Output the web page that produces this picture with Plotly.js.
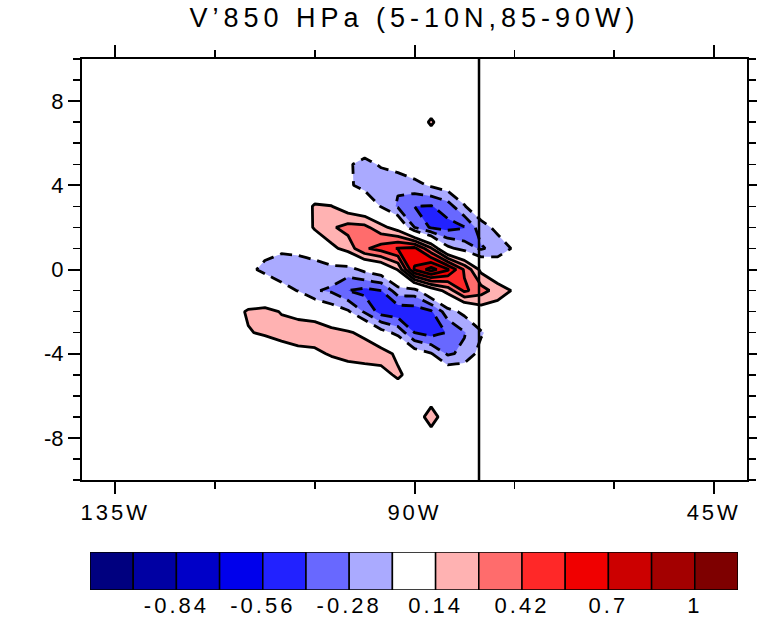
<!DOCTYPE html>
<html><head><meta charset="utf-8">
<script src="https://cdn.plot.ly/plotly-3.0.1.min.js"></script>
<style>html,body{margin:0;padding:0;background:#fff;} #chart{width:757px;height:619px;}</style>
</head><body><div id="chart"></div>
<script>
// Longitudes (deg, negative = W) and lags of the grid
const lons = [-140,-122.5,-120,-117.5,-115,-112.5,-110,-107.5,-105,-102.5,-100,-97.5,-95,-92.5,-90,-87.5,-85,-82.5,-80,-77.5,-75,-72.5,-70,-40];
const lags = [-10,-8,-7,-6,-5,-4,-3,-2,-1,0,1,2,3,4,5,6,7,8,10];

// V'850 regression values, one row per lag (columns follow lons)
const vLagM10 = [0,0,0,0,0,0,0,0,0,0,0,0,0,0,0,0,0,0,0,0,0,0,0,0];
const vLagM8 = [0,0,0,0,0,0,0,0,0,0,0,0,0,0,0,0.03,0,0,0,0,0,0,0,0];
const vLagM7 = [0,0,0,0,0,0,0,0,0,0,0,0,0,0,0,0.24,0,0,0,0,0,0,0,0];
const vLagM6 = [0,0,0,0,0,0,0,0,0,0,0,0,0,0.02,0.02,0.03,0,0,0,0,0,0,0,0];
const vLagM5 = [0,0,0,0,0,0,0,0,0,0,0,0.03,0.08,0.17,0.06,0,0,0,0,0,0,0,0,0];
const vLagM4 = [0,0,0,0.01,0.04,0.02,0.05,0.08,0.10,0.16,0.22,0.24,0.22,0.10,-0.05,-0.13,-0.30,-0.25,-0.08,0,0,0,0,0];
const vLagM3 = [0,0,0.03,0.07,0.13,0.16,0.20,0.24,0.24,0.20,0.16,0.10,-0.08,-0.18,-0.42,-0.48,-0.41,-0.29,-0.16,-0.05,0,0,0,0];
const vLagM2 = [0,0,0.03,0.07,0.16,0.19,0.13,0.08,0.05,-0.05,-0.12,-0.30,-0.48,-0.52,-0.50,-0.44,-0.20,-0.10,0.05,0.05,0.02,0,0,0];
const vLagM1 = [0,0,0,-0.01,-0.03,-0.08,-0.10,-0.145,-0.27,-0.30,-0.42,-0.46,-0.42,-0.20,-0.20,0.03,0.20,0.45,0.34,0.22,0.12,0.05,0,0];
const vLag0  = [0,0,-0.02,-0.05,-0.125,-0.155,-0.20,-0.22,-0.24,-0.20,-0.20,-0.10,-0.03,0.15,0.72,0.90,0.72,0.40,0.10,-0.02,0,0,0,0];
const vLag1  = [0,0,0,-0.01,-0.02,-0.12,-0.12,-0.10,-0.02,0.10,0.20,0.40,0.48,0.57,0.60,0.30,-0.10,-0.20,-0.30,-0.22,-0.12,-0.05,0,0];
const vLag2  = [0,0,0,0,0,-0.03,-0.03,0,0.16,0.26,0.33,0.32,0.19,0.064,-0.28,-0.44,-0.47,-0.43,-0.20,-0.10,-0.03,0,0,0];
const vLag3  = [0,0,0,0,0,0,0,0.02,0.16,0.145,0.05,-0.02,-0.15,-0.30,-0.42,-0.43,-0.35,-0.15,-0.02,0,0,0,0,0];
const vLag4  = [0,0,0,0,0,0,0,0,-0.02,-0.03,-0.12,-0.18,-0.24,-0.26,-0.19,-0.12,-0.06,-0.02,0,0,0,0,0,0];
const vLag5  = [0,0,0,0,0,0,0,0,0,-0.05,-0.12,-0.19,-0.12,-0.06,-0.02,0,0,0,0,0,0,0,0,0];
const vLag6  = [0,0,0,0,0,0,0,0,0,0,-0.02,-0.02,0,0,0,0,0,0,0,0,0,0,0,0];
const vLag7  = [0,0,0,0,0,0,0,0,0,0,0,0,0,0,0,0.17,0,0,0,0,0,0,0,0];
const vLag8  = [0,0,0,0,0,0,0,0,0,0,0,0,0,0,0,0,0,0,0,0,0,0,0,0];
const vLag10 = [0,0,0,0,0,0,0,0,0,0,0,0,0,0,0,0,0,0,0,0,0,0,0,0];

// Reference meridian drawn as a vertical line
const refLon = -80.3;

// Axis ticks
const xTickVals = [-135,-90,-45];
const xTickText = ['135W','90W','45W'];
const yTickVals = [-8,-4,0,4,8];
const yTickText = ['-8','-4','0','4','8'];

// Contour levels / label bar
const cbColors = ['#00007f','#0000a3','#0000c8','#0000ec','#2222ff','#6868ff','#aaaaff','#ffffff',
                  '#ffb2b2','#ff6c6c','#ff2828','#f00000','#cc0000','#a30000','#7e0000'];
const cbLabels = ['-0.84','-0.56','-0.28','0.14','0.42','0.7','1'];
const cbLabelAt = [1.5,3.5,5.5,7.5,9.5,11.5,13.5];

const z = [vLagM10,vLagM8,vLagM7,vLagM6,vLagM5,vLagM4,vLagM3,vLagM2,vLagM1,vLag0,vLag1,vLag2,vLag3,vLag4,vLag5,vLag6,vLag7,vLag8,vLag10];

// colour for each filled band (16 bands: below -0.98 ... above 0.98, zero band split in two)
const bandColors = cbColors.slice(0,8).concat(cbColors.slice(7));
const colorscale = bandColors.map((c,i)=>[i/(bandColors.length-1), c]);

const fillTrace = {
  type:'contour', x:lons, y:lags, z:z, autocontour:false,
  contours:{start:-0.98, end:0.98, size:0.14, coloring:'fill', showlines:false},
  colorscale:colorscale, showscale:false, line:{width:0, smoothing:0}, hoverinfo:'skip'
};
const posLines = {
  type:'contour', x:lons, y:lags, z:z, autocontour:false,
  contours:{start:0.14, end:0.98, size:0.14, coloring:'none'},
  line:{color:'black', width:2.8, smoothing:0}, showscale:false, hoverinfo:'skip'
};
const negLines = {
  type:'contour', x:lons, y:lags, z:z, autocontour:false,
  contours:{start:-0.98, end:-0.14, size:0.14, coloring:'none'},
  line:{color:'black', width:2.8, smoothing:0, dash:'12px,7px'}, showscale:false, hoverinfo:'skip'
};
const cbTrace = {
  type:'bar', x:cbColors.map((c,i)=>i), y:cbColors.map(()=>1), width:1,
  marker:{color:cbColors, line:{color:'black', width:1.5}},
  xaxis:'x2', yaxis:'y2', hoverinfo:'skip', cliponaxis:false
};

const axBase = {
  ticks:'outside', tickwidth:2, tickcolor:'black', showline:true, linewidth:2, linecolor:'black',
  mirror:'allticks', showgrid:false, zeroline:false
};
const sp = t => '<span style="letter-spacing:3px">'+t+'</span>';

const layout = {
  width:757, height:619,
  margin:{l:82, r:10, t:59, b:29},
  paper_bgcolor:'white', plot_bgcolor:'white', showlegend:false,
  font:{family:'Liberation Sans, Arial, sans-serif', color:'black', size:22},
  title:{text:'<span style="letter-spacing:5px">V\u2019850 HPa (5-10N,85-90W)</span>', font:{size:27},
         x:0.5, xref:'paper', xanchor:'center', y:1-18/619, yref:'container', yanchor:'middle'},
  xaxis:Object.assign({}, axBase, {domain:[0,1], anchor:'y', range:[-140,-40],
         tickmode:'array', tickvals:xTickVals, ticktext:xTickText.map(sp), ticklen:12,
         minor:{dtick:15, tick0:-135, ticks:'outside', ticklen:7, tickwidth:1.5, tickcolor:'black', showgrid:false}}),
  yaxis:Object.assign({}, axBase, {domain:[110/531,1], anchor:'x', range:[-10,10],
         tickmode:'array', tickvals:yTickVals, ticktext:yTickText, ticklen:12,
         minor:{dtick:1, tick0:0, ticks:'outside', ticklen:7, tickwidth:1.5, tickcolor:'black', showgrid:false}}),
  xaxis2:{domain:[8/665, 656/665], anchor:'y2', range:[-0.5,14.5], tickmode:'array', tickvals:cbLabelAt,
          ticktext:cbLabels.map(sp), ticks:'', ticklen:0, showline:false, showgrid:false, zeroline:false},
  yaxis2:{domain:[0, 38/531], anchor:'x2', range:[0,1], visible:false},
  shapes:[{type:'line', xref:'x', yref:'y', x0:refLon, x1:refLon, y0:-10, y1:10, layer:'above',
           line:{color:'black', width:2.5}}]
};

Plotly.newPlot('chart', [fillTrace, posLines, negLines, cbTrace], layout, {staticPlot:true, displayModeBar:false});
</script>
</body></html>
